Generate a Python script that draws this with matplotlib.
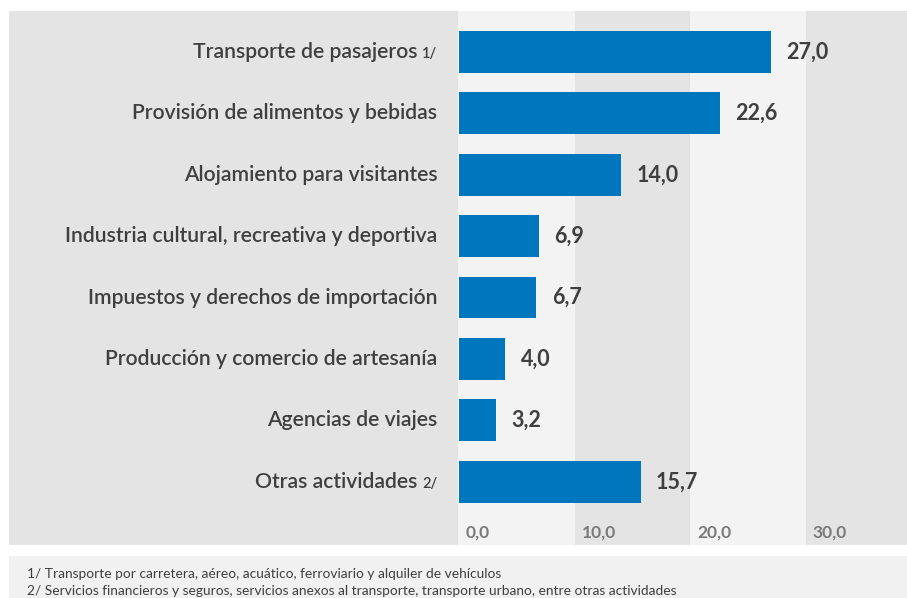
import matplotlib
matplotlib.use("Agg")
import matplotlib.pyplot as plt
from matplotlib.transforms import blended_transform_factory
from matplotlib.patches import Rectangle

categories = [
    "Transporte de pasajeros",
    "Provisión de alimentos y bebidas",
    "Alojamiento para visitantes",
    "Industria cultural, recreativa y deportiva",
    "Impuestos y derechos de importación",
    "Producción y comercio de artesanía",
    "Agencias de viajes",
    "Otras actividades",
]
markers = ["1/", "", "", "", "", "", "", "2/"]
values = [27.0, 22.6, 14.0, 6.9, 6.7, 4.0, 3.2, 15.7]
ticks = [0, 10, 20, 30]
tick_labels = ["0,0", "10,0", "20,0", "30,0"]
footnotes = [
    "1/ Transporte por carretera, aéreo, acuático, ferroviario y alquiler de vehículos",
    "2/ Servicios financieros y seguros, servicios anexos al transporte, transporte urbano, entre otras actividades",
]

FONT = ["Lato", "DejaVu Sans"]
plt.rcParams["font.family"] = FONT
DARK = "#3f3f3f"
LIGHT_BAND = "#f3f3f3"
DARK_BAND = "#e4e4e4"
BAR = "#0076bf"

W, H = 907, 598
fig = plt.figure(figsize=(W / 100, H / 100), dpi=100)
fig.patch.set_facecolor("white")

# label panel background
fig.patches.append(Rectangle((9 / W, 1 - 545 / H), (458 - 9) / W, (545 - 11) / H,
                             transform=fig.transFigure, facecolor=DARK_BAND, edgecolor="none", zorder=-2))
# footnote box
fig.patches.append(Rectangle((9 / W, 0), (W - 9) / W, (598 - 556) / H,
                             transform=fig.transFigure, facecolor="#f1f1f1", edgecolor="none", zorder=-2))

ax = fig.add_axes([458 / W, 1 - 545 / H, (W - 458) / W, (545 - 11) / H])
xmin, xmax = -0.087, 38.75
ax.set_xlim(xmin, xmax)
n = len(categories)
ax.set_ylim(n - 1 + 1.03, -0.667)

# alternating bands
edges = [xmin] + ticks[1:] + [xmax]
for i in range(len(edges) - 1):
    ax.axvspan(edges[i], edges[i + 1], color=LIGHT_BAND if i % 2 == 0 else DARK_BAND, zorder=0, lw=0)

ys = list(range(n))
ax.barh(ys, values, height=0.68, color=BAR, zorder=2)

for y, v in zip(ys, values):
    ax.annotate(f"{v:.1f}".replace(".", ","), (v, y), xytext=(11, 0), textcoords="offset points",
                va="center", ha="left", fontsize=15.5, fontweight="bold", color=DARK, zorder=3)

for t, lab in zip(ticks, tick_labels):
    ax.annotate(lab, (t, n - 1 + 0.82), xytext=(5, 0), textcoords="offset points",
                va="center", ha="left", fontsize=12.5, fontweight="bold", color="#7a7a7a")

trans = blended_transform_factory(ax.transAxes, ax.transData)
for y, cat, m in zip(ys, categories, markers):
    if m:
        ax.annotate(m, (0, y), xycoords=trans, xytext=(-15, -4.3), textcoords="offset points",
                    va="baseline", ha="right", fontsize=10.5, color=DARK, fontweight="semibold",
                    annotation_clip=False)
        ax.annotate(cat, (0, y), xycoords=trans, xytext=(-29, -4.3), textcoords="offset points",
                    va="baseline", ha="right", fontsize=15.2, color=DARK, fontweight="semibold",
                    annotation_clip=False)
    else:
        ax.annotate(cat, (0, y), xycoords=trans, xytext=(-15, -4.3), textcoords="offset points",
                    va="baseline", ha="right", fontsize=15.2, color=DARK, fontweight="semibold",
                    annotation_clip=False)

ax.set_xticks([])
ax.set_yticks([])
for s in ax.spines.values():
    s.set_visible(False)

for i, fn in enumerate(footnotes):
    fig.text(27 / W, 1 - (574 + 17 * i) / H, fn, fontsize=9.9, color=DARK, va="center", ha="left")

fig.savefig("out.png", dpi=100, facecolor="white")
